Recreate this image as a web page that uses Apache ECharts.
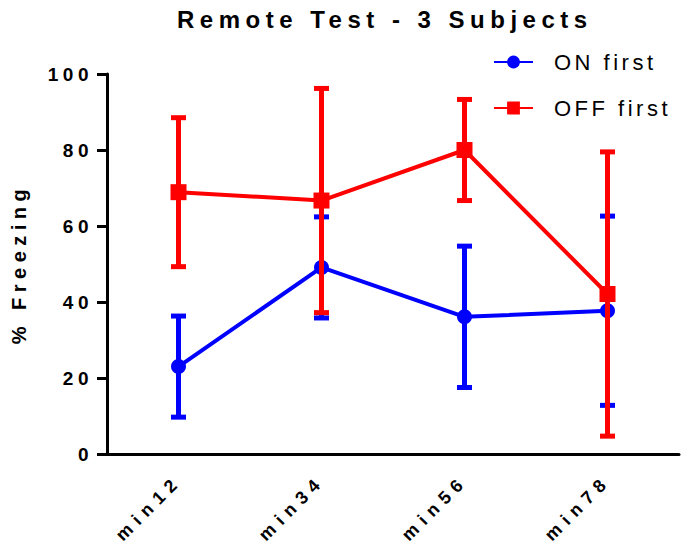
<!DOCTYPE html>
<html>
<head>
<meta charset="utf-8">
<script src="https://cdn.jsdelivr.net/npm/echarts@6/dist/echarts.min.js"></script>
<style>
html,body{margin:0;padding:0;background:#fff;}
#chart{width:692px;height:550px;}
#chart text[style*="24px"]{letter-spacing:5.5px;}
#chart text[style*="22px"]{letter-spacing:3.5px;}
#chart text[style*="20px"]{letter-spacing:5.5px;}
#chart text[style*="19px"]{letter-spacing:4.5px;}
#chart text[style*="18px"]{letter-spacing:6.5px;}
</style>
</head>
<body>
<div id="chart"></div>
<script>
// Data
var categories = ['min12', 'min34', 'min56', 'min78'];
var onFirstMean = [23.0, 49.1, 36.1, 37.7];
var onFirstErr  = [13.3, 13.3, 18.6, 24.9];
var offFirstMean = [68.9, 66.7, 80.0, 42.1];
var offFirstErr  = [19.6, 29.5, 13.3, 37.4];
var yTicks = [0, 20, 40, 60, 80, 100];

var FONT = '"Liberation Sans", Arial, Helvetica, sans-serif';

function errData(mean, err) {
  return mean.map(function (m, i) { return [i, m - err[i], m + err[i]]; });
}

function errRender(color) {
  return function (params, api) {
    var x = api.value(0);
    var lo = api.coord([x, api.value(1)]);
    var hi = api.coord([x, api.value(2)]);
    var cx = lo[0];
    var capW = 15, barW = 5, capH = 5;
    return {
      type: 'group',
      children: [
        { type: 'rect', shape: { x: cx - barW / 2, y: hi[1], width: barW, height: lo[1] - hi[1] }, style: { fill: color } },
        { type: 'rect', shape: { x: cx - capW / 2, y: hi[1] - capH / 2, width: capW, height: capH }, style: { fill: color } },
        { type: 'rect', shape: { x: cx - capW / 2, y: lo[1] - capH / 2, width: capW, height: capH }, style: { fill: color } }
      ]
    };
  };
}

var chart = echarts.init(document.getElementById('chart'), null, { renderer: 'svg' });
chart.setOption({
  animation: false,
  backgroundColor: '#ffffff',
  title: {
    text: 'Remote Test - 3 Subjects',
    left: 177,
    top: 7,
    padding: 0,
    textStyle: { fontFamily: FONT, fontSize: 24, fontWeight: 'bold', color: '#000' }
  },
  legend: {
    orient: 'vertical',
    left: 493,
    top: 51,
    itemWidth: 39,
    itemHeight: 16,
    itemGap: 24,
    padding: 0,
    data: ['ON first', 'OFF first'],
    textStyle: { fontFamily: FONT, fontSize: 22, color: '#000', padding: [0, 0, 0, 16] }
  },
  grid: { left: 107, right: 13, top: 74, bottom: 96, containLabel: false, outerBoundsMode: 'none' },
  xAxis: {
    type: 'category',
    data: categories,
    boundaryGap: true,
    axisLine: { lineStyle: { color: '#000', width: 3 } },
    axisTick: { alignWithLabel: true, length: 10, lineStyle: { color: '#000', width: 3 } },
    axisLabel: { rotate: 45, margin: 24, color: '#000', fontFamily: FONT, fontSize: 18, fontWeight: 'bold' },
    splitLine: { show: false }
  },
  yAxis: {
    type: 'value',
    min: yTicks[0],
    max: yTicks[yTicks.length - 1],
    interval: yTicks[1] - yTicks[0],
    name: '% Freezing',
    nameLocation: 'middle',
    nameRotate: 90,
    nameGap: 78,
    nameTextStyle: { fontFamily: FONT, fontSize: 20, fontWeight: 'bold', color: '#000' },
    axisLine: { show: true, lineStyle: { color: '#000', width: 3 } },
    axisTick: { show: true, length: 10, lineStyle: { color: '#000', width: 3 } },
    axisLabel: { margin: 14, color: '#000', fontFamily: FONT, fontSize: 19, fontWeight: 'bold' },
    splitLine: { show: false }
  },
  series: [
    {
      type: 'custom',
      name: 'ON first err',
      z: 2,
      renderItem: errRender('#0000ff'),
      encode: { x: 0, y: [1, 2] },
      data: errData(onFirstMean, onFirstErr),
      silent: true
    },
    {
      type: 'line',
      name: 'ON first',
      z: 3,
      data: onFirstMean,
      color: '#0000ff',
      symbol: 'circle',
      symbolSize: 15,
      lineStyle: { width: 4, color: '#0000ff' },
      itemStyle: { color: '#0000ff' }
    },
    {
      type: 'custom',
      name: 'OFF first err',
      z: 4,
      renderItem: errRender('#ff0000'),
      encode: { x: 0, y: [1, 2] },
      data: errData(offFirstMean, offFirstErr),
      silent: true
    },
    {
      type: 'line',
      name: 'OFF first',
      z: 5,
      data: offFirstMean,
      color: '#ff0000',
      symbol: 'rect',
      symbolSize: 16,
      lineStyle: { width: 4, color: '#ff0000' },
      itemStyle: { color: '#ff0000' }
    }
  ]
});
</script>
</body>
</html>
